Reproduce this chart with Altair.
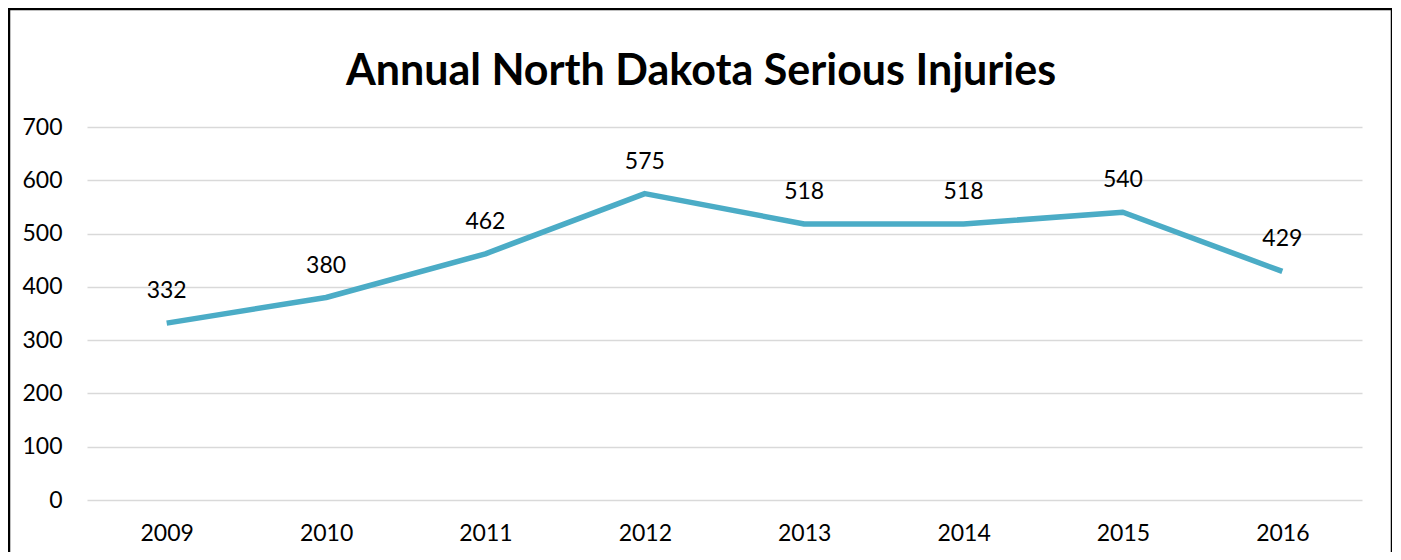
import altair as alt
import pandas as pd

title_text = "Annual North Dakota Serious Injuries"
years = ["2009", "2010", "2011", "2012", "2013", "2014", "2015", "2016"]
injuries = [332, 380, 462, 575, 518, 518, 540, 429]

df = pd.DataFrame({"year": years, "value": injuries})

FONT = "Lato"
base = alt.Chart(df)

x = alt.X("year:N", sort=years, title=None,
          scale=alt.Scale(type="point", padding=0.5),
          axis=alt.Axis(labelAngle=0, ticks=False, domain=False, grid=False,
                        labelFontSize=23, labelFont=FONT, labelColor="#000000",
                        labelPadding=22, labelBaseline="top"))
y = alt.Y("value:Q", title=None,
          scale=alt.Scale(domain=[0, 700], nice=False),
          axis=alt.Axis(values=[0, 100, 200, 300, 400, 500, 600, 700],
                        ticks=False, domain=False, grid=True,
                        gridColor="#D9D9D9", gridWidth=1.5,
                        labelFontSize=23, labelFont=FONT, labelColor="#000000",
                        labelPadding=25))

line = base.mark_line(color="#4BACC6", strokeWidth=5.5, strokeJoin="round").encode(x=x, y=y)
labels = base.mark_text(fontSize=23, font=FONT, color="#000000", dy=-32,
                        baseline="middle").encode(x=x, y=y, text="value:Q")

frame = alt.Chart(alt.Data(values=[{}])).mark_rect(
    fill=None, stroke="#000000", strokeWidth=2.5
).encode(x=alt.value(-78), x2=alt.value(1305), y=alt.value(-118), y2=alt.value(700))

title = alt.Chart(alt.Data(values=[{"t": title_text}])).mark_text(
    fontSize=43, font=FONT, fontWeight="bold", color="#000000",
    align="center", baseline="alphabetic"
).encode(x=alt.value(614), y=alt.value(-42), text="t:N")

chart = alt.layer(frame, line, labels, title).properties(
    width=1275, height=373,
    autosize=alt.AutoSizeParams(type="none"),
    padding={"left": 79, "top": 119, "right": 30, "bottom": 52},
).configure(background="#FFFFFF", view=alt.ViewConfig(stroke=None))

chart.save("out.html", embed_options={"renderer": "svg", "actions": False})
